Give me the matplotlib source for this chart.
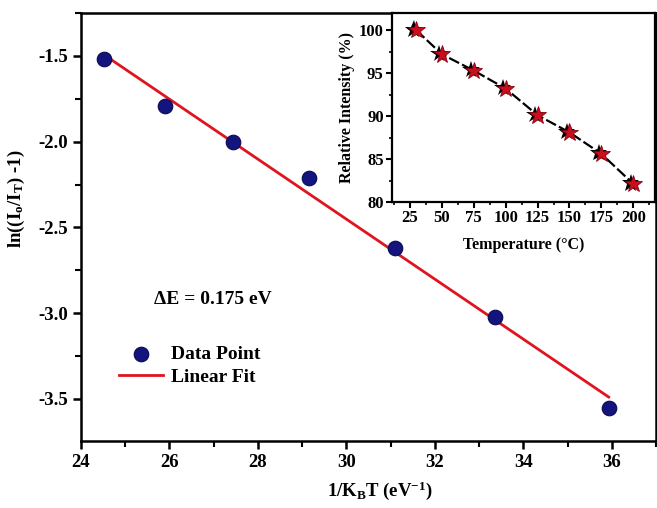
import matplotlib
matplotlib.use("Agg")
import matplotlib.pyplot as plt
import matplotlib.patheffects as pe
from matplotlib.ticker import MultipleLocator, AutoMinorLocator
import numpy as np

plt.rcParams['font.family'] = ['Liberation Serif', 'DejaVu Serif']
plt.rcParams['font.weight'] = 'bold'
plt.rcParams['axes.unicode_minus'] = False
plt.rcParams['mathtext.fontset'] = 'custom'
plt.rcParams['mathtext.rm'] = 'Liberation Serif:bold'
plt.rcParams['mathtext.bf'] = 'Liberation Serif:bold'
plt.rcParams['mathtext.it'] = 'Liberation Serif:italic:bold'

# main data: 1/kT (eV^-1) vs ln((Io/IT)-1)
inv_kt = [24.53, 25.90, 27.43, 29.16, 31.11, 33.35, 35.93]
ln_ratio = [-1.52, -1.79, -2.00, -2.21, -2.62, -3.02, -3.55]

# inset data: temperature vs relative intensity
temp_c = [30, 50, 75, 100, 125, 150, 175, 200]
rel_int = [100.0, 97.2, 95.3, 93.2, 90.1, 88.1, 85.6, 82.1]

fig = plt.figure(figsize=(6.57, 5.08), dpi=100)
ax = fig.add_axes([0.1233, 0.1319, 0.8752, 0.8425])

ax.scatter(inv_kt, ln_ratio, s=110, color='#14147e', edgecolor='#0a0a50',
           linewidth=0.8, zorder=3, label='Data Point')

# linear trendline
z = np.polyfit(inv_kt, ln_ratio, 1)
p = np.poly1d(z)
xs = np.array([inv_kt[0], inv_kt[-1]])
ax.plot(xs, p(xs), color='#e0141e', lw=2, zorder=2, label='Linear Fit')

ax.set_xlim(24, 37)
ax.set_ylim(-3.745, -1.25)
ax.xaxis.set_major_locator(MultipleLocator(2))
ax.xaxis.set_minor_locator(MultipleLocator(1))
ax.yaxis.set_major_locator(MultipleLocator(0.5))
ax.yaxis.set_minor_locator(MultipleLocator(0.25))
ax.tick_params(which='major', direction='out', length=6, width=1.8, labelsize=13.5)
ax.tick_params(which='minor', direction='out', length=4, width=1.5)
for lbl in ax.get_xticklabels() + ax.get_yticklabels():
    lbl.set_fontweight('bold')
for s in ax.spines.values():
    s.set_linewidth(1.8)

ax.set_xlabel(r"1/K$_\mathrm{B}$T (eV$^{-1}$)", fontsize=13.5, fontweight='bold')
ax.set_ylabel(r"ln((I$_\mathrm{o}$/I$_\mathrm{T}$) -1)", fontsize=13.5, fontweight='bold')
ax.xaxis.set_label_coords(0.52, -0.09)
ax.yaxis.set_label_coords(-0.094, 0.565)

ax.text(25.65, -2.92, "ΔE = 0.175 eV", fontsize=14, fontweight='bold', va='center')

leg = ax.legend(loc='upper left', bbox_to_anchor=(0.035, 0.265), frameon=False,
                prop={'size': 14, 'weight': 'bold'}, handlelength=2.3,
                handletextpad=0.4, labelspacing=0.3)

# inset
ins = fig.add_axes([0.5967, 0.6024, 0.4003, 0.372])
ins.plot(temp_c, rel_int, color='black', lw=1.6, ls=(0, (5, 1.5)), zorder=2)
ins.plot(temp_c, rel_int, ls='none', marker='*', markersize=13, color='#c8101c',
         markeredgecolor='#8a0010', markeredgewidth=0.6, zorder=3,
         path_effects=[pe.SimplePatchShadow(offset=(-2, 0.5), shadow_rgbFace='black', alpha=1.0),
                       pe.Normal()])
ins.set_xlim(11, 217)
ins.set_ylim(80, 102)
ins.xaxis.set_major_locator(MultipleLocator(25))
ins.xaxis.set_minor_locator(AutoMinorLocator(2))
ins.yaxis.set_major_locator(MultipleLocator(5))
ins.yaxis.set_minor_locator(AutoMinorLocator(2))
ins.tick_params(which='major', direction='out', length=4, width=1.5, labelsize=12, pad=2)
ins.tick_params(which='minor', direction='out', length=2.5, width=1.2)
for lbl in ins.get_xticklabels() + ins.get_yticklabels():
    lbl.set_fontweight('bold')
for s in ins.spines.values():
    s.set_linewidth(1.6)
ins.set_xlabel("Temperature (°C)", fontsize=11.5, fontweight='bold', labelpad=8)
ins.set_ylabel("Relative Intensity (%)", fontsize=11.5, fontweight='bold', labelpad=3)

fig.savefig("out.png", dpi=100)
